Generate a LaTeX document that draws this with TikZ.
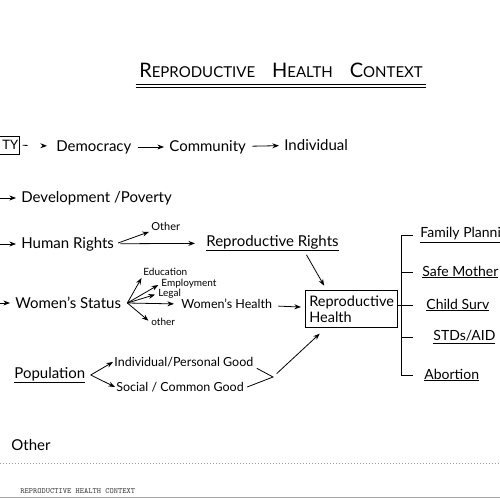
\documentclass[tikz,border=0pt]{standalone}
\usepackage{fontspec}
\setmainfont{Lato}
\usetikzlibrary{arrows.meta}

\newcommand\tcap[2]{{\fontsize{20}{20}\selectfont #1}{\fontsize{15}{15}\selectfont #2}}

\tikzset{
  care/.style={anchor=west, inner sep=1pt, font=\fontsize{15}{17}\selectfont},
  part/.style={anchor=west, inner sep=1pt, font=\fontsize{14}{16}\selectfont},
  mid/.style={anchor=west, inner sep=1pt, font=\fontsize{12.5}{14}\selectfont},
  small/.style={anchor=west, inner sep=1pt, font=\fontsize{10}{11}\selectfont},
  link/.style={->, shorten <=5pt, shorten >=4pt},
}

\begin{document}
\begin{tikzpicture}[x=1pt, y=-1pt, >=Stealth, line width=0.8pt]
  \useasboundingbox (0,0) rectangle (500,500);
  \clip (0,0) rectangle (500,500);
  \fill[white] (0,0) rectangle (500,500);

  % title
  \node (title) at (281,70) {\tcap{R}{EPRODUCTIVE}\hspace{17pt}\tcap{H}{EALTH}\hspace{17pt}\tcap{C}{ONTEXT}};
  \draw ([yshift=-3pt]title.south west) -- ([yshift=-3pt]title.south east);
  \draw ([yshift=-6pt]title.south west) -- ([yshift=-6pt]title.south east);

  % first row
  \node[care, font=\fontsize{13}{15}\selectfont] (soc) at (1,145) {TY};
  \draw ([yshift=3pt]soc.north east) rectangle ([shift={(-12pt,-3pt)}]soc.south west);
  \node[care] (dem) at (55,147) {Democracy};
  \node[care] (com) at (168,147) {Community};
  \node[care] (ind) at (283,145) {Individual};
  \draw[->, dash pattern=on 5pt off 30pt, shorten <=3pt, shorten >=8pt] (soc) -- (dem);
  \draw[link] (dem) -- (com);
  \draw[link] (com) -- (ind);

  % development
  \coordinate (in2) at (0,198);
  \node[care] (dev) at (20,198) {Development /Poverty};
  \draw[->, shorten >=4pt] (in2) -- (dev);

  % human rights
  \coordinate (in3) at (0,244);
  \node[care] (hr) at (20,244) {Human Rights};
  \node[small, font=\fontsize{11}{12}\selectfont] (oth) at (150,226) {Other};
  \node[care] (rr) at (205,243) {\underline{Reproductive Rights}};
  \draw[->, shorten >=4pt] (in3) -- (hr);
  \draw[->, shorten <=3pt, shorten >=1pt] (hr.east) -- (oth.south west);
  \draw[link, shorten >=10pt] (hr) -- (rr);

  % women's status
  \coordinate (in4) at (0,303);
  \node[care] (ws) at (14,303) {Women's Status};
  \coordinate (fan) at ([xshift=5pt]ws.east);
  \node[small] (edu) at (142,272) {Education};
  \node[small] (emp) at (160,284) {Employment};
  \node[small] (leg) at (157,294) {Legal};
  \node[small] (ot2) at (150,322) {other};
  \node[mid] (wh) at (180,304) {Women's Health};
  \draw[->, shorten >=4pt] (in4) -- (ws);
  \draw[->, shorten >=1pt] (fan) -- (edu.south west);
  \draw[->, shorten >=2pt] (fan) -- (emp.west);
  \draw[->, shorten >=2pt] (fan) -- (leg.west);
  \draw[->, shorten >=6pt] (fan) -- (wh.west);
  \draw[->, shorten >=2pt] (fan) -- (ot2.west);

  % reproductive health
  \node[draw, line width=1.2pt, align=left, anchor=north west, minimum width=92pt,
        minimum height=37pt, inner sep=2pt, font=\fontsize{14.5}{15.5}\selectfont] (rh) at (305,290) {Reproductive\\Health};
  \draw[link] (wh) -- (rh);
  \draw[->, shorten <=3pt, shorten >=5pt] ([xshift=-35pt]rr.south east) -- ([xshift=-25pt]rh.north);

  % components
  \node[part] (fp) at (419,235) {\underline{Family Planni}};
  \node[part] (sm) at (421,272) {\underline{Safe Mother}};
  \node[part] (cs) at (425,305) {\underline{Child Surv}};
  \node[part] (std) at (432,337) {\underline{STDs/AID}};
  \node[part] (ab) at (423,375) {\underline{Abortion}};
  \coordinate (brk) at (401,305);
  \draw (brk |- fp.west) -- (brk |- ab.west);
  \foreach \t in {fp,sm,cs,std,ab}
    \draw (brk |- \t.west) -- +(12,0);
  \draw (rh.east |- cs.west) -- (brk |- cs.west);

  % population
  \node[care] (pop) at (13,375) {\underline{Population}};
  \coordinate (fork) at ([xshift=4pt]pop.east);
  \node[mid] (ig) at (113,362) {Individual/Personal Good};
  \node[mid] (sg) at (115,387) {Social / Common Good};
  \coordinate (join) at (273,377);
  \draw[->] (fork) -- (ig.west);
  \draw[->] (fork) -- (sg.west);
  \draw ([xshift=2pt]ig.south east) -- (join) -- ([xshift=2pt]sg.east);
  \draw[->, shorten <=5pt, shorten >=8pt] (join) -- ([xshift=-26pt]rh.south);

  % other
  \node[care] (oth3) at (10,445) {Other};

  % page footer
  \draw[black!40, dotted, line width=1pt] (0,463) -- (500,463);
  \node[anchor=west, inner sep=0pt, text=black!75, font=\ttfamily\fontsize{8}{8}\selectfont] (foot) at (20,491) {REPRODUCTIVE HEALTH CONTEXT};
  \draw[black!35, line width=1.5pt] (0,497.5) -- (500,497.5);
\end{tikzpicture}
\end{document}
